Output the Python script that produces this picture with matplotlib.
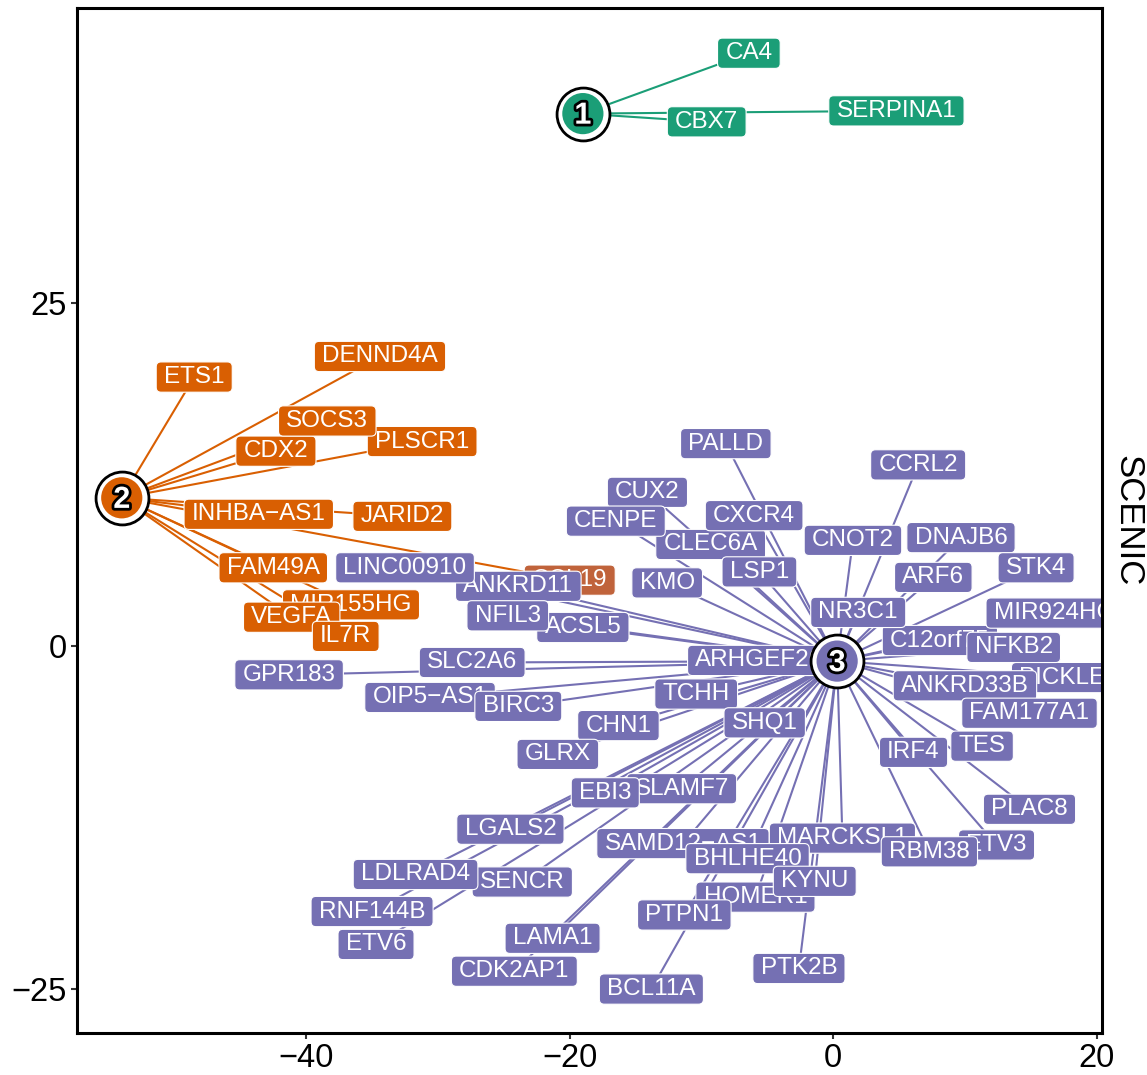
import numpy as np
import matplotlib
matplotlib.use('Agg')
import matplotlib.pyplot as plt
import matplotlib.patheffects as pe
from matplotlib.path import Path

plt.rcParams['font.family'] = ['Liberation Sans', 'DejaVu Sans']

#%% data ######################################################################
clusters = ['1', '2', '3']
cluster_x = [-19.0, -54.0, 0.3]
cluster_y = [38.8, 10.8, -1.1]
cluster_col = ['#1b9e77', '#d95f02', '#7570b3']

genes1 = ['CA4', 'CBX7', 'SERPINA1']
x1 = [-6.4, -9.6, 4.8]
y1 = [43.2, 38.2, 39.0]

genes2 = ['ETS1', 'DENND4A', 'CDX2', 'PLSCR1', 'SOCS3', 'INHBA\u2212AS1', 'JARID2',
          'FAM49A', 'CCL19', 'MIR155HG', 'VEGFA', 'IL7R']
x2 = [-48.5, -34.4, -42.3, -31.2, -38.4, -43.6, -32.7,
      -42.5, -20.0, -36.6, -41.1, -37.0]
y2 = [19.6, 21.1, 14.2, 14.9, 16.4, 9.6, 9.45,
      5.7, 4.8, 3.0, 2.1, 0.7]

genes3 = ['PALLD', 'CCRL2', 'CLEC6A', 'CUX2', 'CENPE', 'CXCR4', 'LSP1', 'CNOT2',
          'DNAJB6', 'ARF6', 'STK4', 'ANKRD11', 'LINC00910', 'KMO', 'ACSL5', 'NFIL3',
          'C12orf75', 'MIR924HG', 'PICKLE1', 'NFKB2', 'NR3C1', 'GPR183', 'SLC2A6',
          'ARHGEF26', 'OIP5\u2212AS1', 'BIRC3', 'TCHH', 'SHQ1', 'CHN1', 'ANKRD33B',
          'FAM177A1', 'IRF4', 'TES', 'GLRX', 'SLAMF7', 'EBI3', 'PLAC8', 'LGALS2',
          'SAMD12\u2212AS1', 'MARCKSL1', 'ETV3', 'RBM38', 'HOMER1', 'BHLHE40', 'PTPN1',
          'KYNU', 'SENCR', 'LDLRAD4', 'RNF144B', 'ETV6', 'LAMA1', 'CDK2AP1', 'PTK2B',
          'BCL11A']
x3 = [-8.15, 6.45, -9.3, -14.1, -16.5, -6.0, -5.6, 1.5,
      9.7, 7.6, 15.4, -23.9, -32.5, -12.6, -19.0, -24.7,
      8.1, 16.8, 17.9, 13.7, 1.9, -41.3, -27.4,
      -5.6, -30.6, -23.9, -10.4, -5.2, -16.3, 10.0,
      14.9, 6.1, 11.3, -20.9, -11.5, -17.3, 14.9, -24.5,
      -11.4, 0.7, 12.4, 7.3, -5.9, -6.5, -11.3,
      -1.4, -23.6, -31.7, -35.0, -34.7, -21.3, -24.2, -2.6,
      -13.8]
y3 = [14.75, 13.2, 7.4, 11.2, 9.1, 9.5, 5.4, 7.7,
      7.9, 5.0, 5.7, 4.35, 5.7, 4.6, 1.35, 2.2,
      0.4, 2.4, -2.3, -0.1, 2.45, -2.1, -1.2,
      -1.05, -3.75, -4.4, -3.5, -5.6, -5.8, -2.9,
      -4.9, -7.75, -7.3, -7.9, -10.4, -10.7, -11.9, -13.35,
      -14.4, -14.0, -14.5, -15.0, -18.3, -15.5, -19.6,
      -17.15, -17.2, -16.65, -19.35, -21.75, -21.3, -23.7, -23.5,
      -25.0]

genes = [genes1, genes2, genes3]
gx = [x1, x2, x3]
gy = [y1, y2, y3]
# label partly covered by a purple one (shows as a blend)
special_fill = {'CCL19': '#c0633b'}


def label_box(x0, y0, width, height, mutation_size):
    # rounded box, wider padding left/right like ggplot labels
    px, py, r = 0.32*mutation_size, 0.17*mutation_size, 0.2*mutation_size
    x0, y0 = x0 - px, y0 - py
    x1_, y1_ = x0 + width + 2*px, y0 + height + 2*py
    verts = [(x0 + r, y0), (x1_ - r, y0), (x1_, y0), (x1_, y0 + r),
             (x1_, y1_ - r), (x1_, y1_), (x1_ - r, y1_),
             (x0 + r, y1_), (x0, y1_), (x0, y1_ - r),
             (x0, y0 + r), (x0, y0), (x0 + r, y0), (x0 + r, y0)]
    codes = [Path.MOVETO, Path.LINETO, Path.CURVE3, Path.CURVE3,
             Path.LINETO, Path.CURVE3, Path.CURVE3,
             Path.LINETO, Path.CURVE3, Path.CURVE3,
             Path.LINETO, Path.CURVE3, Path.CURVE3, Path.CLOSEPOLY]
    return Path(verts, codes)


#%% figure ####################################################################
fig = plt.figure(figsize=(11.47, 10.75), dpi=100)
ax = fig.add_axes([0.0671, 0.0391, 0.9605 - 0.0671, 0.9926 - 0.0391])

# edges
for k in range(len(clusters)):
    for xx, yy in zip(gx[k], gy[k]):
        ax.plot([cluster_x[k], xx], [cluster_y[k], yy], color=cluster_col[k],
                lw=1.5, zorder=1, solid_capstyle='butt')

# gene labels
z = 2
for k in range(len(clusters)):
    for g, xx, yy in zip(genes[k], gx[k], gy[k]):
        fc = special_fill.get(g, cluster_col[k])
        ax.text(xx, yy, g, color='white', fontsize=17.5, ha='center', va='center',
                zorder=z, clip_on=True,
                bbox=dict(boxstyle=label_box, fc=fc, ec='white', lw=0.8))
        z += 0.01

# cluster nodes
ax.scatter(cluster_x, cluster_y, s=1450, c='white', edgecolors='black',
           linewidths=2.0, zorder=10)
ax.scatter(cluster_x, cluster_y, s=880, c=cluster_col, edgecolors='none', zorder=11)
for k in range(len(clusters)):
    ax.text(cluster_x[k], cluster_y[k] - 0.15, clusters[k], color='white',
            fontsize=22, fontweight='bold', ha='center', va='center', zorder=12,
            path_effects=[pe.withStroke(linewidth=4, foreground='black')])

ax.set_xlim(-57.4, 20.38)
ax.set_ylim(-28.2, 46.5)
ax.set_xticks([-40, -20, 0, 20])
ax.set_yticks([-25, 0, 25])
ax.set_xticklabels(['\u221240', '\u221220', '0', '20'])
ax.set_yticklabels(['\u221225', '0', '25'])
ax.tick_params(labelsize=23.5, length=4, width=1.5, color='#333333', pad=3)
for s in ax.spines.values():
    s.set_linewidth(2.2)

fig.text(0.983, 0.516, 'SCENIC', rotation=-90, fontsize=25, ha='center', va='center')

fig.savefig('out.png', dpi=100)
